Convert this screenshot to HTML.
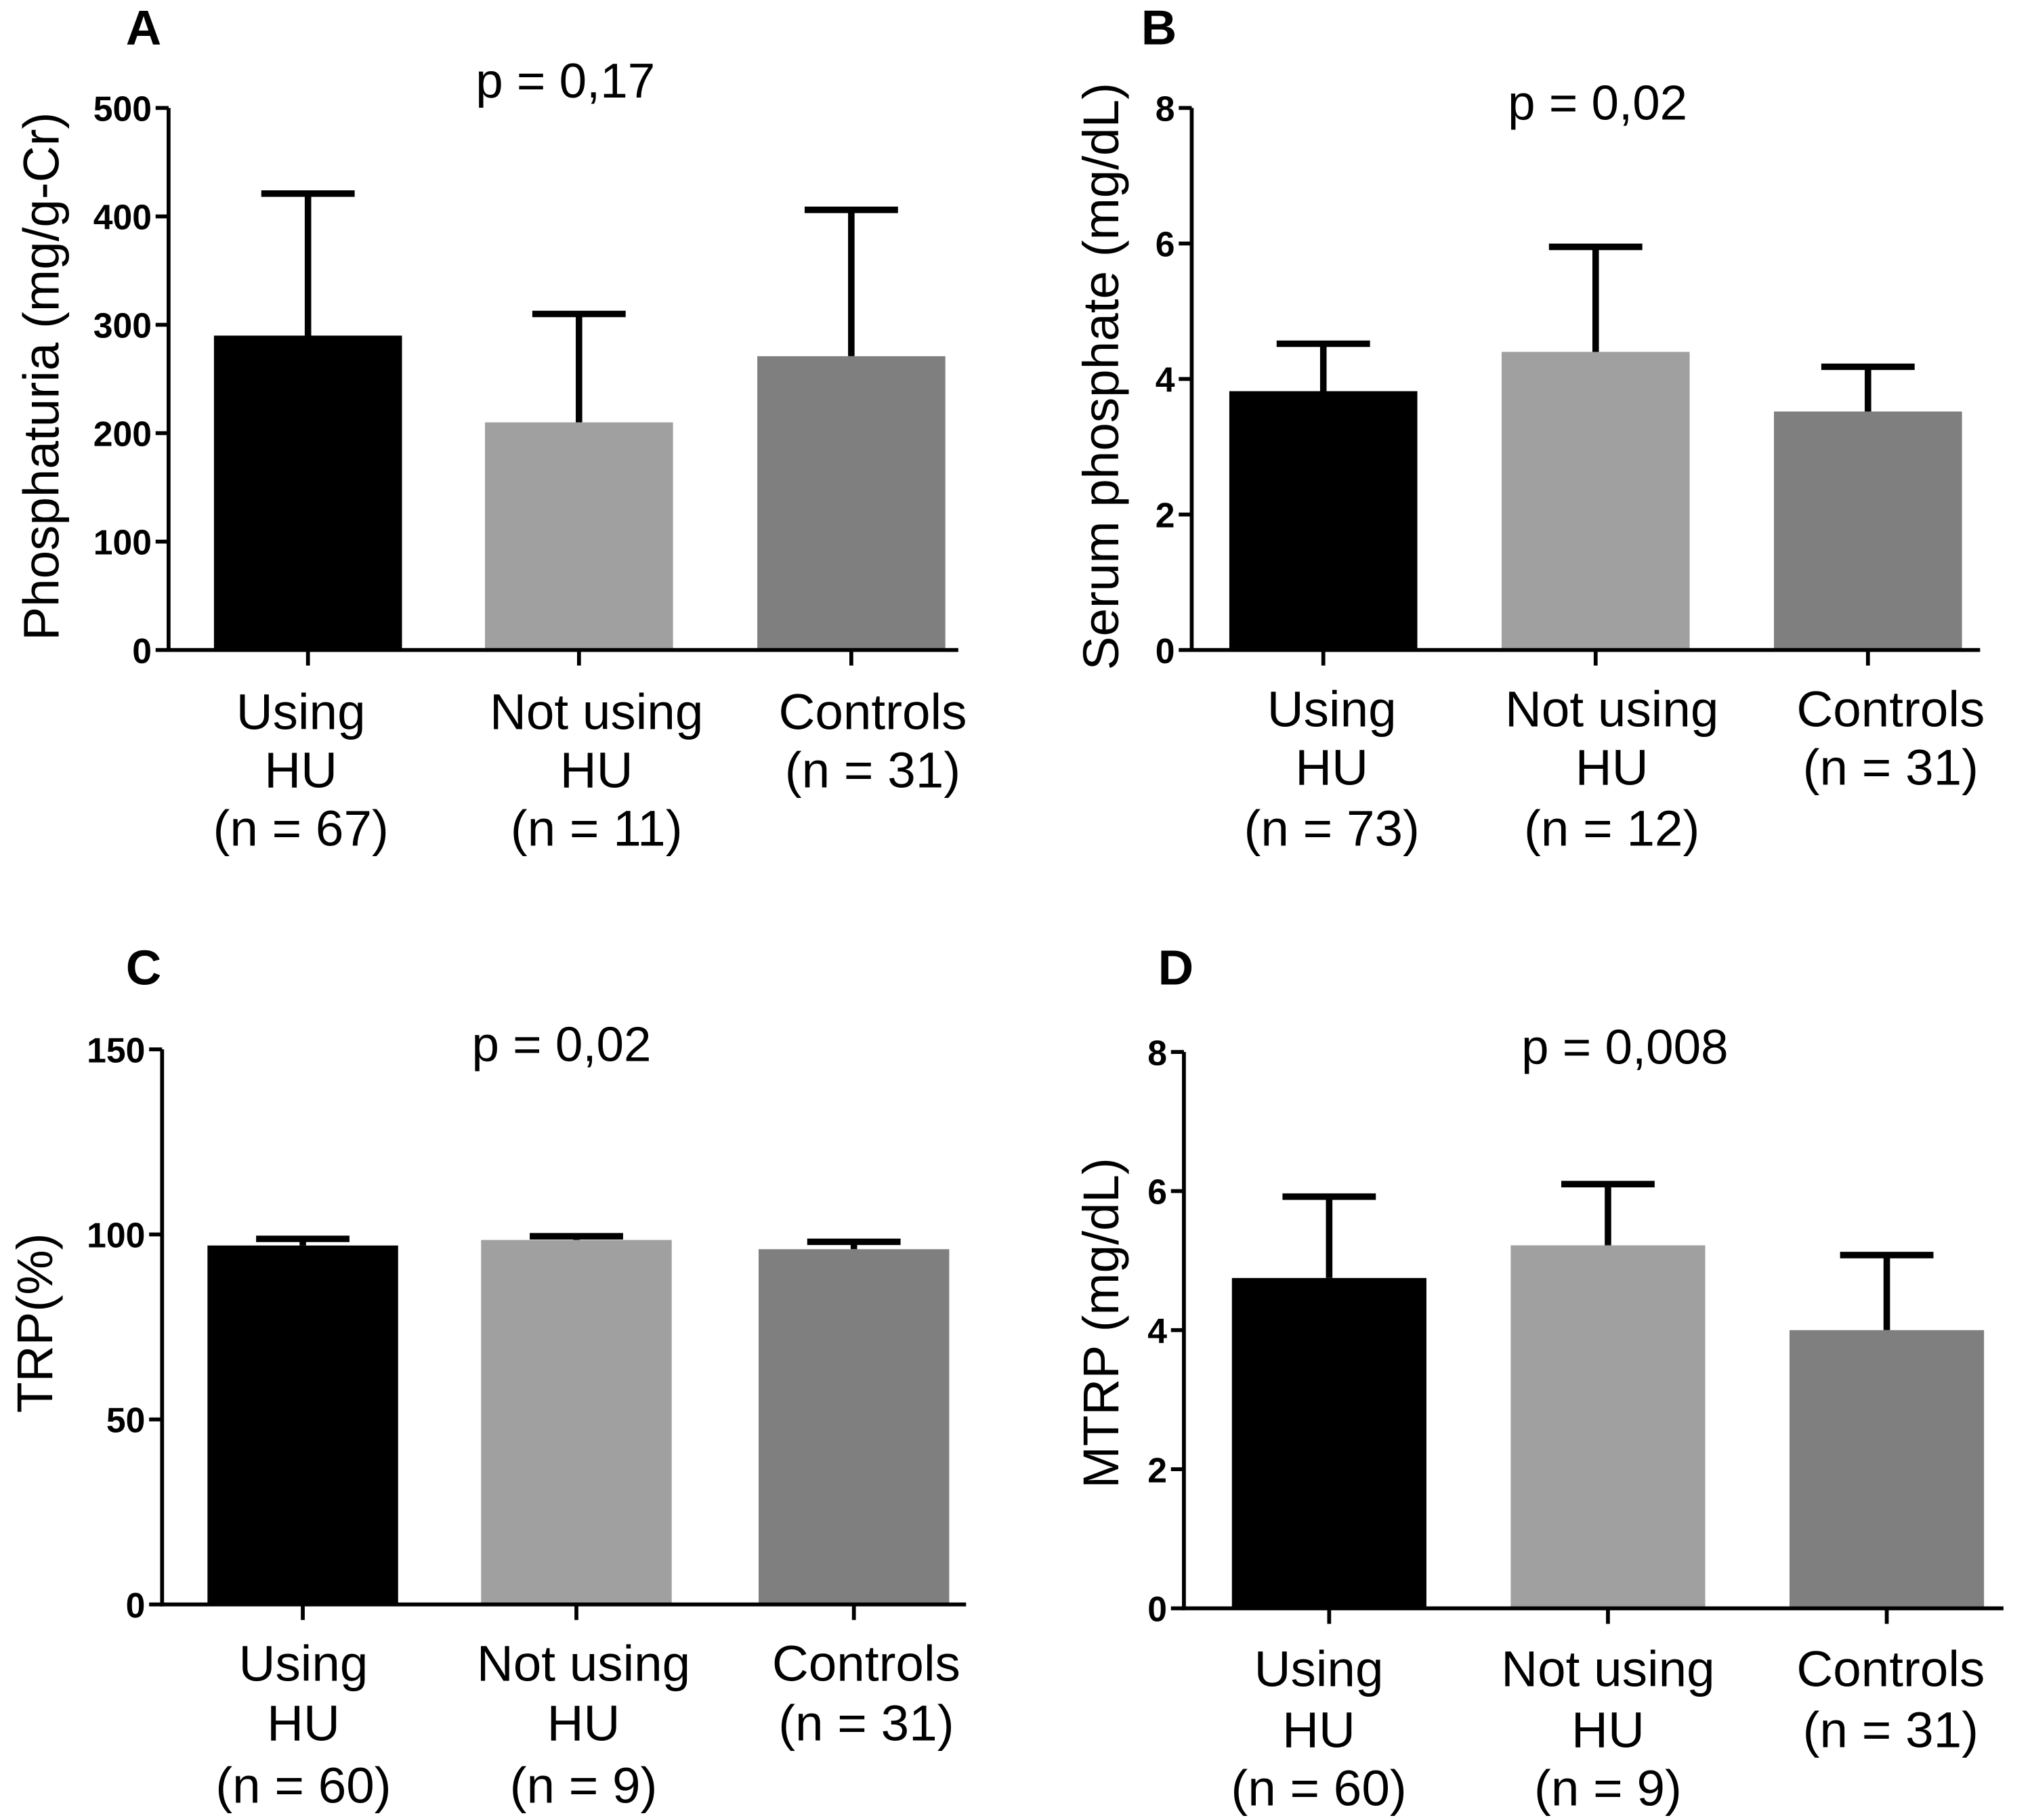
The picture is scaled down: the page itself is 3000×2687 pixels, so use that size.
<!DOCTYPE html>
<html><head><meta charset="utf-8"><style>
html,body{margin:0;padding:0;background:#fff}
svg{display:block}
text{font-family:"Liberation Sans",Arial,sans-serif}
</style></head><body>
<svg id="chart" width="3000" height="2687" viewBox="0 0 1567 1403" xmlns="http://www.w3.org/2000/svg"></svg>
<script>
const categoriesA = [["Using","HU","(n = 67)"],["Not using","HU","(n = 11)"],["Controls","(n = 31)"]];
const valuesA = [290, 210, 271];
const errorsA = [421, 310, 406];
const ticksA = [0,100,200,300,400,500];

const categoriesB = [["Using","HU","(n = 73)"],["Not using","HU","(n = 12)"],["Controls","(n = 31)"]];
const valuesB = [3.82, 4.4, 3.52];
const errorsB = [4.52, 5.95, 4.18];
const ticksB = [0,2,4,6,8];

const categoriesC = [["Using","HU","(n = 60)"],["Not using","HU","(n = 9)"],["Controls","(n = 31)"]];
const valuesC = [97, 98.5, 96];
const errorsC = [98.8, 99.5, 98];
const ticksC = [0,50,100,150];

const categoriesD = [["Using","HU","(n = 60)"],["Not using","HU","(n = 9)"],["Controls","(n = 31)"]];
const valuesD = [4.75, 5.22, 4.0];
const errorsD = [5.92, 6.1, 5.08];
const ticksD = [0,2,4,6,8];

const pvals = ["p = 0,17","p = 0,02","p = 0,02","p = 0,008"];
const colors = ["#000000","#a0a0a0","#7f7f7f"];

const NS="http://www.w3.org/2000/svg";
const svg=document.getElementById('chart');
function mk(tag,attrs,parent){const e=document.createElementNS(NS,tag);for(const k in attrs)e.setAttribute(k,attrs[k]);(parent||svg).appendChild(e);return e;}

const panels=[
 {id:'a',letter:'A',lx:97,ax:130,top:83,bot:501,right:739,max:500,bars:[165,374,584],bw:145,ticks:ticksA,cats:categoriesA,vals:valuesA,errs:errorsA,title:"Phosphaturia (mg/g-Cr)",tx:35,ty:290,px:436,py:75,ly:[562,607,652],catx:[232,460,673],p:pvals[0]},
 {id:'b',letter:'B',lx:880,ax:919,top:83,bot:501,right:1527,max:8,bars:[948,1158,1368],bw:145,ticks:ticksB,cats:categoriesB,vals:valuesB,errs:errorsB,title:"Serum phosphate (mg/dL)",tx:852,ty:290,px:1232,py:92,ly:[560,605,652],catx:[1027,1243,1458],p:pvals[1]},
 {id:'c',letter:'C',lx:97,ax:125,top:809,bot:1237,right:745,max:150,bars:[160,371,585],bw:147,ticks:ticksC,cats:categoriesC,vals:valuesC,errs:errorsC,title:"TRP(%)",tx:30,ty:1020,px:433,py:818,ly:[1296,1342,1390],catx:[234,450,668],p:pvals[2]},
 {id:'d',letter:'D',lx:893,ax:913,top:811,bot:1240,right:1545,max:8,bars:[950,1165,1380],bw:150,ticks:ticksD,cats:categoriesD,vals:valuesD,errs:errorsD,title:"MTRP (mg/dL)",tx:852,ty:1020,px:1253,py:820,ly:[1300,1347,1392],catx:[1017,1240,1458],p:pvals[3]}
];

panels.forEach(P=>{
 const g=mk('g',{});
 
 
 const y=v=>P.bot-(v/P.max)*(P.bot-P.top);
 const L=mk('text',{x:P.lx,y:P.id<'c'?34:759,'font-size':38,'font-weight':'bold'},g);L.textContent=P.letter;
 
 
 const pt=mk('text',{x:P.px,y:P.py,'font-size':38,'text-anchor':'middle'},g);pt.textContent=P.p;
 
 
 P.vals.forEach((v,i)=>{
  const cx=P.bars[i]+P.bw/2;
  const eb=mk('line',{x1:cx,x2:cx,y1:y(v),y2:y(P.errs[i]),stroke:'#000','stroke-width':5},g);
  
  
  const cap=mk('line',{x1:cx-36,x2:cx+36,y1:y(P.errs[i]),y2:y(P.errs[i]),stroke:'#000','stroke-width':5},g);
  
  
  const r=mk('rect',{x:P.bars[i],y:y(v),width:P.bw,height:P.bot-y(v),fill:colors[i]},g);
  
  
  const tk=mk('line',{x1:cx,x2:cx,y1:P.bot,y2:P.bot+12,stroke:'#000','stroke-width':3},g);
  
  
  P.cats[i].forEach((s,j)=>{
   const t=mk('text',{x:P.catx[i],y:P.ly[j],'font-size':39,'text-anchor':'middle'},g);t.textContent=s;
   
   
  });
 });
 const ya=mk('line',{x1:P.ax,x2:P.ax,y1:P.top,y2:P.bot+1.5,stroke:'#000','stroke-width':3},g);
 
 
 const xa=mk('line',{x1:P.ax-1.5,x2:P.right,y1:P.bot,y2:P.bot,stroke:'#000','stroke-width':3},g);
 
 
 P.ticks.forEach(t=>{
  mk('line',{x1:P.ax-10,x2:P.ax,y1:y(t),y2:y(t),stroke:'#000','stroke-width':3},g);
  const tl=mk('text',{x:P.ax-13,y:y(t)+10,'font-size':27,'font-weight':'bold','text-anchor':'end'},g);tl.textContent=t;
  
  
 });
 const yt=mk('text',{x:P.tx,y:P.ty,'font-size':39,'text-anchor':'middle',transform:`rotate(-90 ${P.tx} ${P.ty})`,'dominant-baseline':'middle'},g);yt.textContent=P.title;
 
 
});
</script>
</body></html>
